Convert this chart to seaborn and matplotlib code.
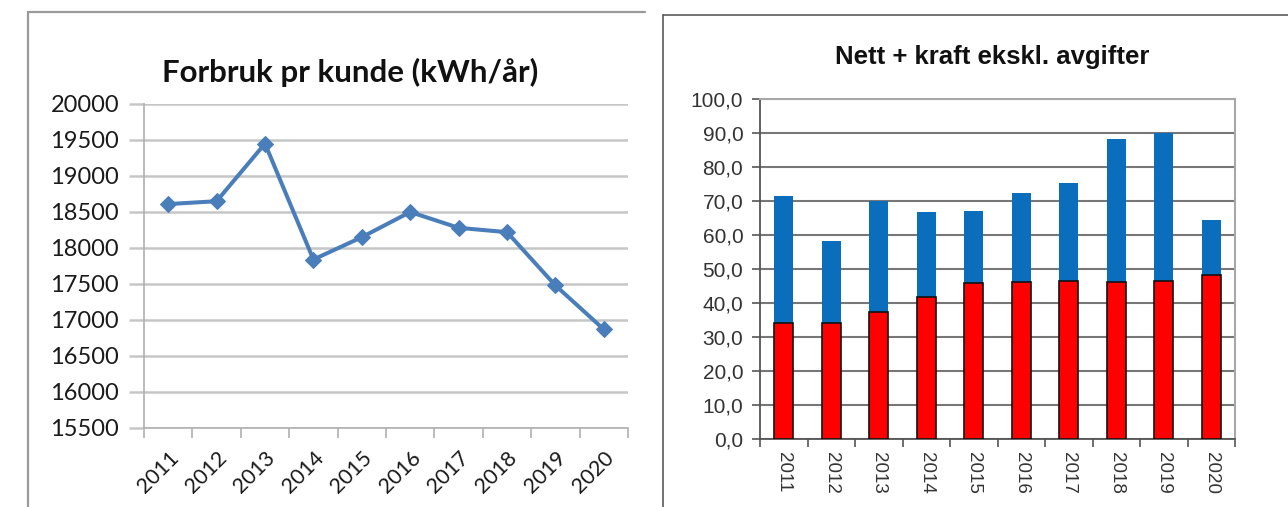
import matplotlib
matplotlib.use('Agg')
import matplotlib.pyplot as plt
import seaborn as sns
import pandas as pd
from matplotlib.lines import Line2D
from matplotlib.ticker import FuncFormatter

years = ['2011', '2012', '2013', '2014', '2015', '2016', '2017', '2018', '2019', '2020']
forbruk = [18610, 18650, 19450, 17840, 18150, 18500, 18280, 18220, 17480, 16870]
nett_kraft_total = [71.7, 58.3, 70.0, 66.9, 67.2, 72.3, 75.4, 88.4, 90.0, 64.5]
red_part = [34.1, 34.1, 37.4, 42.0, 45.9, 46.4, 46.7, 46.4, 46.6, 48.3]

df_left = pd.DataFrame({'year': years, 'forbruk': forbruk})
df_right = pd.DataFrame({'year': years, 'total': nett_kraft_total, 'red': red_part})

sns.set_style('white')
W, H = 1288, 507
fig = plt.figure(figsize=(W / 100, H / 100), dpi=100)


def fx(px):
    return px / W


def fy(py):
    return 1 - py / H


# panel borders
fig.add_artist(Line2D([fx(28), fx(28)], [fy(12), 0], color='#9a9a9a', lw=1.6))
fig.add_artist(Line2D([fx(28), fx(645)], [fy(12), fy(12)], color='#9a9a9a', lw=1.6))
fig.add_artist(Line2D([fx(663), fx(663)], [fy(15), 0], color='#5a5a5a', lw=1.2))
fig.add_artist(Line2D([fx(663), 1], [fy(15), fy(15)], color='#5a5a5a', lw=1.2))

# ---- left chart: Forbruk pr kunde
ax1 = fig.add_axes([fx(144), fy(428), fx(628 - 144), (428 - 104) / H])
sns.lineplot(data=df_left, x='year', y='forbruk', ax=ax1, color='#4a7ebb', lw=2.9,
             marker='D', markersize=8.5, markeredgecolor='#4a7ebb', sort=False)
ax1.set_xlim(-0.5, 9.5)
ax1.set_ylim(15500, 20000)
ax1.set_yticks(range(15500, 20001, 500))
ax1.yaxis.grid(True, color='#c6c6c6', lw=1.8)
ax1.set_axisbelow(True)
for s in ['top', 'right']:
    ax1.spines[s].set_visible(False)
for s in ['left', 'bottom']:
    ax1.spines[s].set_color('#b0b0b0')
    ax1.spines[s].set_linewidth(1.2)
ax1.set_xlabel('')
ax1.set_ylabel('')
ax1.set_xticks(range(10))
ax1.set_xticklabels(years, rotation=45, ha='right', rotation_mode='anchor',
                    family='Lato', fontsize=15.5, color='#1a1a1a')
ax1.set_xticks([i - 0.5 for i in range(11)], minor=True)
ax1.tick_params(axis='x', which='major', length=0, pad=14)
ax1.tick_params(axis='x', which='minor', length=7, color='#b0b0b0', width=1.2, direction='out', bottom=True)
ax1.tick_params(axis='y', length=11, color='#c6c6c6', width=1.8, pad=7, left=True)
for lab in ax1.get_yticklabels():
    lab.set_family('Lato')
    lab.set_fontsize(17)
    lab.set_color('#1a1a1a')
fig.text(fx(350), fy(72), 'Forbruk pr kunde (kWh/år)', ha='center', va='center',
         family='Lato', fontweight='bold', fontsize=22.5, color='#111111')

# ---- right chart: Nett + kraft ekskl. avgifter
ax2 = fig.add_axes([fx(760), fy(439.3), fx(1235 - 760), 340 / H])
sns.barplot(data=df_right, x='year', y='total', ax=ax2, color='#0a6ebd', saturation=1,
            width=0.41, errorbar=None, edgecolor='none', zorder=2)
sns.barplot(data=df_right, x='year', y='red', ax=ax2, color='#ff0000', saturation=1,
            width=0.41, errorbar=None, edgecolor='#111111', linewidth=1.2, zorder=3)
ax2.set_xlim(-0.5, 9.5)
ax2.set_ylim(0, 100)
ax2.set_yticks(range(0, 101, 10))
ax2.yaxis.set_major_formatter(FuncFormatter(lambda v, p: f'{v:.1f}'.replace('.', ',')))
ax2.yaxis.grid(True, color='#777777', lw=1.5, zorder=0)
ax2.set_axisbelow(True)
ax2.set_xlabel('')
ax2.set_ylabel('')
for s in ['top', 'right']:
    ax2.spines[s].set_color('#a8a8a8')
    ax2.spines[s].set_linewidth(1.5)
for s in ['left', 'bottom']:
    ax2.spines[s].set_color('#555555')
    ax2.spines[s].set_linewidth(1.3)
ax2.set_xticks(range(10))
ax2.set_xticklabels(years, rotation=-90, ha='center', va='top',
                    family='Liberation Sans', fontsize=13.5, color='#333333')
ax2.set_xticks([i - 0.5 for i in range(11)], minor=True)
ax2.tick_params(axis='x', which='major', length=0, pad=9)
ax2.tick_params(axis='x', which='minor', length=6, color='#555555', width=1.2, direction='out', bottom=True)
ax2.tick_params(axis='y', length=6, color='#555555', width=1.2, pad=6, left=True)
for lab in ax2.get_yticklabels():
    lab.set_family('Liberation Sans')
    lab.set_fontsize(15)
    lab.set_color('#333333')
fig.text(fx(992), fy(57), 'Nett + kraft ekskl. avgifter', ha='center', va='center',
         family='Liberation Sans', fontweight='bold', fontsize=18.5, color='#111111')

fig.savefig('out.png', dpi=100, facecolor='white')
